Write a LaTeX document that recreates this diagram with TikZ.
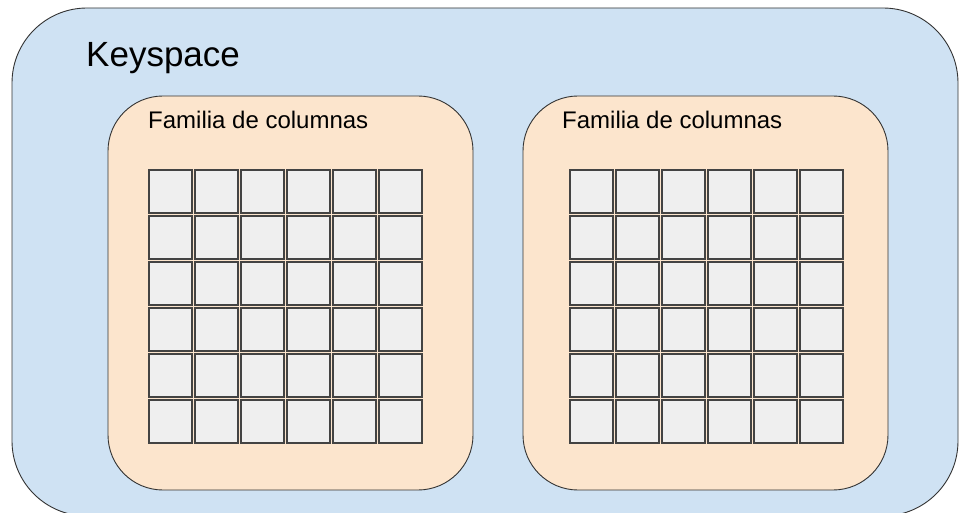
\documentclass[tikz,border=0pt]{standalone}
\usepackage{fontspec}
\setmainfont{Liberation Sans}
\definecolor{keyblue}{HTML}{CFE2F3}
\definecolor{famorange}{HTML}{FCE5CD}
\definecolor{cellgray}{HTML}{EFEFEF}
\definecolor{celledge}{HTML}{434343}
\tikzset{
  keybox/.style={draw=black!80,fill=keyblue,line width=0.9pt,rounded corners=75pt},
  fambox/.style={draw=black!80,fill=famorange,line width=0.9pt,rounded corners=55pt},
  cellbox/.style={draw=celledge,fill=cellgray,line width=1.2pt},
}
\begin{document}
\begin{tikzpicture}[x=1pt,y=-1pt]
            \useasboundingbox (0,0) rectangle (959,513);
            \clip (0,0) rectangle (959,513);
            \draw[keybox] (12,8) rectangle (958,516);
            \node[anchor=base west,inner sep=0pt,font=\fontsize{35}{40}\selectfont] (keyspace) at (86,67) {Keyspace};
            % familias de columnas
            \foreach \fx/\gx/\tx/\nm in {108/149/148/famA,523/570/562/famB}{
              \draw[fambox] (\fx,96) rectangle ++(365,394);
              \node[anchor=base west,inner sep=0pt,font=\fontsize{24}{28}\selectfont] (\nm) at (\tx,129) {Familia de columnas};
              \foreach \i in {0,...,5}
                \foreach \j in {0,...,5}
                  \draw[cellbox] (\gx+\i*46,170+\j*46) rectangle ++(43,43);
            }
        \end{tikzpicture}
\end{document}
